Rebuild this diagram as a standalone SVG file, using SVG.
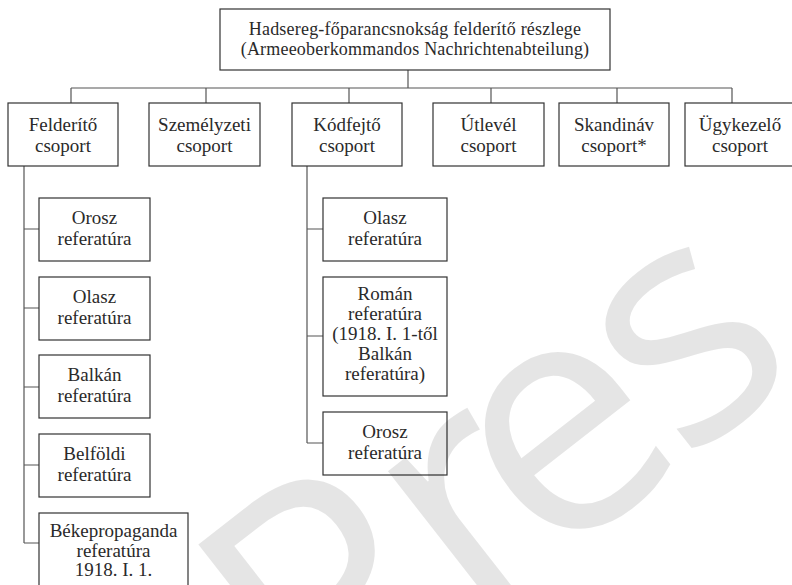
<svg xmlns="http://www.w3.org/2000/svg" width="792" height="585" viewBox="0 0 792 585">
<style>
.box{fill:#fff;stroke:#333;stroke-width:1.2}
.t{font-family:"Liberation Serif","Times New Roman",serif;font-size:19px;fill:#2a2a2a;text-anchor:middle}
.h{font-size:18px;letter-spacing:0.2px}
.c{fill:none;stroke:#555;stroke-width:1.2}
.wm{font-family:"Open Sans",sans-serif;font-size:330px;fill:#000;fill-opacity:0.1}
</style>
<rect width="792" height="585" fill="#fff"/>
<g id="connectors">
<path class="c" d="M408 70V88M71 88H732M71 88V103M206 88V103M349 88V103M491 88V103M617 88V103M732 88V103"/>
<path class="c" d="M24 166V543M24 229H39M24 308H39M24 387H39M24 465H39M24 543H39"/>
<path class="c" d="M307 166V443M307 229H323M307 336H323M307 443H323"/>
</g>
<g id="root"><rect class="box" x="220" y="9" width="390" height="61"/><text class="t h" x="415" y="35">Hadsereg-főparancsnokság felderítő részlege</text><text class="t h" x="415" y="55">(Armeeoberkommandos Nachrichtenabteilung)</text></g>
<g id="felderito"><rect class="box" x="8" y="103" width="110" height="63"/><text class="t" x="63" y="131">Felderítő</text><text class="t" x="63" y="151.5">csoport</text></g>
<g id="szemelyzeti"><rect class="box" x="149" y="103" width="111" height="63"/><text class="t" x="204.5" y="131">Személyzeti</text><text class="t" x="204.5" y="151.5">csoport</text></g>
<g id="kodfejto"><rect class="box" x="292" y="103" width="110" height="63"/><text class="t" x="347" y="131">Kódfejtő</text><text class="t" x="347" y="151.5">csoport</text></g>
<g id="utlevel"><rect class="box" x="433" y="103" width="111" height="63"/><text class="t" x="488.5" y="131">Útlevél</text><text class="t" x="488.5" y="151.5">csoport</text></g>
<g id="skandinav"><rect class="box" x="559" y="103" width="110" height="63"/><text class="t" x="614" y="131">Skandináv</text><text class="t" x="614" y="151.5">csoport*</text></g>
<g id="ugykezelo"><rect class="box" x="685" y="103" width="110" height="63"/><text class="t" x="740" y="131">Ügykezelő</text><text class="t" x="740" y="151.5">csoport</text></g>
<g id="f-orosz"><rect class="box" x="39" y="198" width="111" height="63"/><text class="t" x="94.5" y="224">Orosz</text><text class="t" x="94.5" y="244.5">referatúra</text></g>
<g id="f-olasz"><rect class="box" x="39" y="277" width="111" height="63"/><text class="t" x="94.5" y="303">Olasz</text><text class="t" x="94.5" y="323.5">referatúra</text></g>
<g id="f-balkan"><rect class="box" x="39" y="355" width="111" height="63"/><text class="t" x="94.5" y="381">Balkán</text><text class="t" x="94.5" y="401.5">referatúra</text></g>
<g id="f-belfoldi"><rect class="box" x="39" y="434" width="111" height="63"/><text class="t" x="94.5" y="460">Belföldi</text><text class="t" x="94.5" y="480.5">referatúra</text></g>
<g id="f-bekepropaganda"><rect class="box" x="39" y="513" width="149" height="110"/><text class="t" x="113.5" y="537">Békepropaganda</text><text class="t" x="113.5" y="557">referatúra</text><text class="t" x="113.5" y="576">1918. I. 1.</text></g>
<g id="k-olasz"><rect class="box" x="323" y="198" width="124" height="63"/><text class="t" x="385" y="224">Olasz</text><text class="t" x="385" y="244.5">referatúra</text></g>
<g id="k-roman"><rect class="box" x="323" y="277" width="124" height="119"/><text class="t" x="385" y="300">Román</text><text class="t" x="385" y="320">referatúra</text><text class="t" x="385" y="340">(1918. I. 1-től</text><text class="t" x="385" y="360">Balkán</text><text class="t" x="385" y="380">referatúra)</text></g>
<g id="k-orosz"><rect class="box" x="323" y="412" width="124" height="63"/><text class="t" x="385" y="438">Orosz</text><text class="t" x="385" y="458.5">referatúra</text></g>
<text class="wm" x="318" y="750" transform="rotate(-38 318 750)">Pr<tspan dx="-40">e</tspan><tspan dx="-15">s</tspan></text>
</svg>
